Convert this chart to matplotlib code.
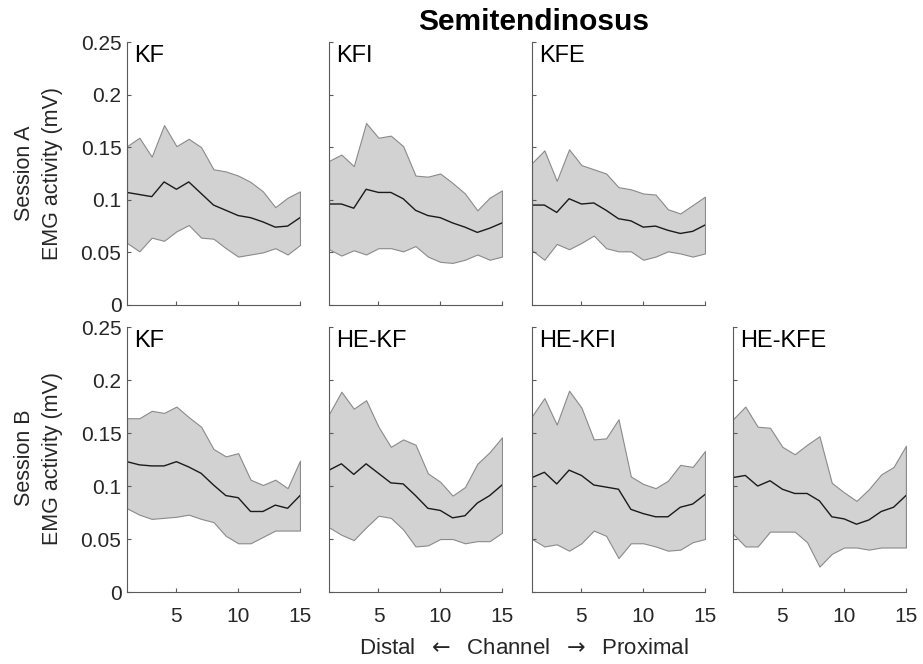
import numpy as np
import matplotlib
matplotlib.use('Agg')
import matplotlib.pyplot as plt

plt.rcParams['font.family'] = ['Liberation Sans', 'DejaVu Sans']

channels = np.arange(1, 16)

# Session A - KF
a_kf_hi = [0.151, 0.159, 0.141, 0.171, 0.151, 0.158, 0.150, 0.129, 0.127, 0.123, 0.117, 0.108, 0.093, 0.102, 0.108]
a_kf_mean = [0.107, 0.105, 0.103, 0.117, 0.110, 0.117, 0.106, 0.095, 0.090, 0.085, 0.083, 0.079, 0.074, 0.075, 0.083]
a_kf_lo = [0.059, 0.051, 0.064, 0.061, 0.070, 0.076, 0.064, 0.063, 0.054, 0.046, 0.048, 0.050, 0.054, 0.048, 0.057]

# Session A - KFI
a_kfi_hi = [0.137, 0.143, 0.132, 0.173, 0.159, 0.161, 0.151, 0.123, 0.122, 0.125, 0.116, 0.106, 0.090, 0.102, 0.109]
a_kfi_mean = [0.096, 0.096, 0.092, 0.110, 0.107, 0.107, 0.101, 0.090, 0.085, 0.083, 0.078, 0.074, 0.069, 0.073, 0.078]
a_kfi_lo = [0.053, 0.047, 0.052, 0.048, 0.054, 0.054, 0.051, 0.056, 0.046, 0.041, 0.040, 0.043, 0.048, 0.043, 0.046]

# Session A - KFE
a_kfe_hi = [0.135, 0.147, 0.118, 0.148, 0.133, 0.129, 0.125, 0.112, 0.110, 0.106, 0.105, 0.091, 0.087, 0.095, 0.103]
a_kfe_mean = [0.095, 0.095, 0.088, 0.101, 0.096, 0.097, 0.090, 0.082, 0.080, 0.074, 0.075, 0.071, 0.068, 0.070, 0.076]
a_kfe_lo = [0.052, 0.043, 0.058, 0.053, 0.059, 0.066, 0.054, 0.051, 0.051, 0.043, 0.046, 0.051, 0.049, 0.046, 0.049]

# Session B - KF
b_kf_hi = [0.164, 0.164, 0.171, 0.169, 0.175, 0.165, 0.156, 0.135, 0.128, 0.131, 0.106, 0.101, 0.106, 0.098, 0.124]
b_kf_mean = [0.123, 0.120, 0.119, 0.119, 0.123, 0.118, 0.112, 0.101, 0.091, 0.089, 0.076, 0.076, 0.082, 0.079, 0.091]
b_kf_lo = [0.079, 0.073, 0.069, 0.070, 0.071, 0.073, 0.069, 0.066, 0.053, 0.046, 0.046, 0.052, 0.058, 0.058, 0.058]

# Session B - HE-KF
b_hekf_hi = [0.168, 0.189, 0.173, 0.181, 0.156, 0.137, 0.144, 0.139, 0.112, 0.104, 0.091, 0.099, 0.121, 0.132, 0.146]
b_hekf_mean = [0.115, 0.121, 0.111, 0.121, 0.112, 0.103, 0.102, 0.091, 0.079, 0.077, 0.070, 0.072, 0.084, 0.091, 0.101]
b_hekf_lo = [0.061, 0.054, 0.049, 0.061, 0.072, 0.070, 0.059, 0.043, 0.044, 0.050, 0.050, 0.046, 0.048, 0.048, 0.056]

# Session B - HE-KFI
b_hekfi_hi = [0.166, 0.183, 0.158, 0.190, 0.174, 0.144, 0.145, 0.163, 0.109, 0.102, 0.098, 0.105, 0.120, 0.118, 0.133]
b_hekfi_mean = [0.108, 0.113, 0.102, 0.115, 0.110, 0.101, 0.099, 0.097, 0.078, 0.074, 0.071, 0.071, 0.080, 0.083, 0.092]
b_hekfi_lo = [0.050, 0.043, 0.045, 0.039, 0.046, 0.058, 0.053, 0.032, 0.046, 0.046, 0.043, 0.039, 0.040, 0.047, 0.050]

# Session B - HE-KFE
b_hekfe_hi = [0.163, 0.175, 0.156, 0.155, 0.137, 0.130, 0.139, 0.147, 0.103, 0.094, 0.086, 0.097, 0.111, 0.118, 0.138]
b_hekfe_mean = [0.108, 0.110, 0.100, 0.105, 0.097, 0.093, 0.093, 0.086, 0.071, 0.069, 0.064, 0.068, 0.076, 0.080, 0.091]
b_hekfe_lo = [0.055, 0.043, 0.043, 0.057, 0.057, 0.057, 0.047, 0.024, 0.036, 0.042, 0.042, 0.040, 0.042, 0.042, 0.042]

top_labels = ['KF', 'KFI', 'KFE']
bottom_labels = ['KF', 'HE-KF', 'HE-KFI', 'HE-KFE']
top_data = [(a_kf_lo, a_kf_mean, a_kf_hi), (a_kfi_lo, a_kfi_mean, a_kfi_hi), (a_kfe_lo, a_kfe_mean, a_kfe_hi)]
bottom_data = [(b_kf_lo, b_kf_mean, b_kf_hi), (b_hekf_lo, b_hekf_mean, b_hekf_hi),
               (b_hekfi_lo, b_hekfi_mean, b_hekfi_hi), (b_hekfe_lo, b_hekfe_mean, b_hekfe_hi)]

yticks = [0, 0.05, 0.1, 0.15, 0.2, 0.25]
ytick_labels = ['0', '0.05', '0.1', '0.15', '0.2', '0.25']
xticks = [5, 10, 15]

axis_col = '#5a5a5a'
text_col = '#262626'

fig = plt.figure(figsize=(9.23, 6.64), dpi=100)

lefts = [0.1376, 0.3565, 0.5764, 0.7941]
width = 0.1874


def draw_panel(ax, data, label, first_col, bottom_row):
    lo, mean, hi = data
    ax.fill_between(channels, lo, hi, facecolor='#d2d2d2', edgecolor='#8a8a8a', linewidth=0.8)
    ax.plot(channels, mean, color='#1a1a1a', linewidth=1.0)
    ax.set_xlim(1, 15)
    ax.set_ylim(0, 0.25)
    for s in ['top', 'right']:
        ax.spines[s].set_visible(False)
    for s in ['left', 'bottom']:
        ax.spines[s].set_color(axis_col)
        ax.spines[s].set_linewidth(0.8)
    ax.set_xticks(xticks)
    ax.set_yticks(yticks)
    ax.tick_params(direction='in', length=3, width=0.8, color=axis_col,
                   labelsize=15, labelcolor=text_col, pad=4)
    ax.tick_params(axis='x', pad=11)
    if first_col:
        ax.set_yticklabels(ytick_labels)
    else:
        ax.set_yticklabels([])
    if not bottom_row:
        ax.set_xticklabels([])
    ax.text(0.04, 0.99, label, transform=ax.transAxes, ha='left', va='top',
            fontsize=17, color='black')


for i, (d, lab) in enumerate(zip(top_data, top_labels)):
    ax = fig.add_axes([lefts[i], 0.5407, width, 0.396])
    draw_panel(ax, d, lab, i == 0, False)

for i, (d, lab) in enumerate(zip(bottom_data, bottom_labels)):
    ax = fig.add_axes([lefts[i], 0.1084, width, 0.399])
    draw_panel(ax, d, lab, i == 0, True)

fig.text(0.5785, 0.967, 'Semitendinosus', ha='center', va='center',
         fontsize=21.5, fontweight='bold', color='black')
fig.text(0.042, 0.739, 'Session A\nEMG activity (mV)', rotation=90, ha='center',
         va='center', fontsize=15.5, color=text_col, linespacing=1.45)
fig.text(0.042, 0.310, 'Session B\nEMG activity (mV)', rotation=90, ha='center',
         va='center', fontsize=15.5, color=text_col, linespacing=1.45)
fig.text(0.568, 0.024, 'Distal  $\\leftarrow$  Channel  $\\rightarrow$  Proximal', ha='center',
         va='center', fontsize=16, color=text_col)

fig.savefig('out.png', dpi=100)
